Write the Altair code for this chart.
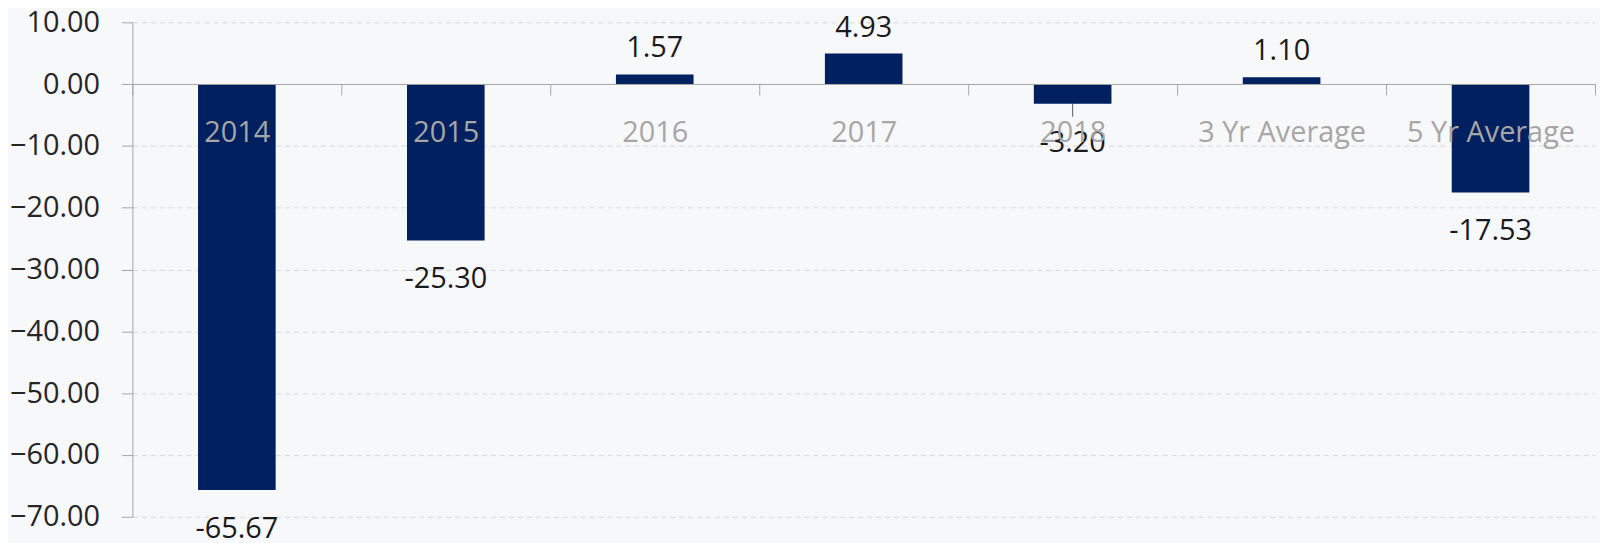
import altair as alt
import pandas as pd

categories = ["2014", "2015", "2016", "2017", "2018", "3 Yr Average", "5 Yr Average"]
values = [-65.67, -25.30, 1.57, 4.93, -3.20, 1.10, -17.53]
leader = [False, False, False, False, True, False, False]
y_ticks = [10, 0, -10, -20, -30, -40, -50, -60, -70]

df = pd.DataFrame({"category": categories, "value": values, "leader": leader})
df["label"] = df["value"].map(lambda v: f"{v:.2f}")

FONT = "Open Sans"
AXIS_GREY = "#a6a6a6"

x = alt.X(
    "category:N",
    sort=categories,
    scale=alt.Scale(paddingInner=0, paddingOuter=0),
    axis=alt.Axis(
        title=None, orient="bottom", offset=-435, tickBand="extent",
        tickSize=11, tickColor=AXIS_GREY, domainColor=AXIS_GREY,
        labelColor="#a6a6a6", labelFont=FONT, labelFontSize=29, labelAngle=0,
        labelBaseline="alphabetic", labelPadding=47, grid=False, zindex=1,
    ),
)
y = alt.Y(
    "value:Q",
    scale=alt.Scale(domain=[-70, 10], nice=False, zero=False),
    axis=alt.Axis(
        title=None, values=y_ticks, format=".2f", tickSize=11,
        tickColor=AXIS_GREY, domainColor=AXIS_GREY, labelColor="#262626",
        labelFont=FONT, labelFontSize=29, labelPadding=22,
        grid=True, gridColor="#d9d9d9", gridDash=[5, 4],
    ),
)

base = alt.Chart(df)
bars = base.mark_bar(size=78, color="#002060").encode(x=x, y=y)
pos = base.transform_filter("datum.value >= 0").mark_text(
    dy=-17, baseline="alphabetic", font=FONT, fontSize=29, color="#1a1a1a"
).encode(x=x, y=y, text="label:N")
neg = base.transform_filter("datum.value < 0").mark_text(
    dy=48, baseline="alphabetic", font=FONT, fontSize=29, color="#1a1a1a"
).encode(x=x, y=y, text="label:N")
lead = base.transform_filter("datum.leader").mark_tick(
    orient="vertical", size=13, thickness=1, yOffset=6.5, color="#1a1a1a"
).encode(x=x, y=y)

chart = alt.layer(bars, lead, pos, neg).properties(
    width=1470, height=497, autosize="none",
    padding={"left": 125, "top": 13, "right": 5, "bottom": 25},
    background="#f7f8fa",
).configure_view(stroke=None)

chart.save("out.html", embed_options={"renderer": "svg", "actions": False})
